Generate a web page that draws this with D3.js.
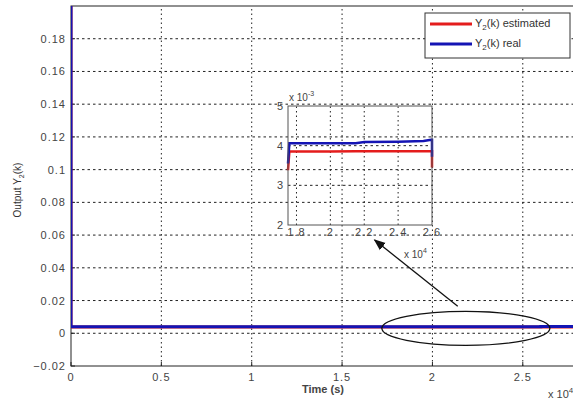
<!DOCTYPE html>
<html>
<head>
<meta charset="utf-8">
<script src="https://cdn.jsdelivr.net/npm/d3@7"></script>
<style>
  body { margin: 0; background: #fff; }
  svg { display: block; font-family: "Liberation Sans", Arial, sans-serif; }
  .tick-label { font-size: 11px; fill: #444; letter-spacing: 1px; }
</style>
</head>
<body>
<div id="chart"></div>
<script>
// chart size
const width = 573
const height = 403

// main plot data (time in 1e4 s, output)
const mainTicksX = [0, 0.5, 1, 1.5, 2, 2.5]
const mainTicksY = [-0.02, 0, 0.02, 0.04, 0.06, 0.08, 0.1, 0.12, 0.14, 0.16, 0.18]
const mainTime = [0, 0, 0.05, 0.5, 1.0, 1.5, 1.75, 2.2, 2.6, 2.8]
const mainReal = [0.25, 0.004, 0.004, 0.004, 0.004, 0.004, 0.00402, 0.00406, 0.0041, 0.0041]
const mainEst = [0.25, 0.0038, 0.0038, 0.0038, 0.0038, 0.0038, 0.0038, 0.00383, 0.00383, 0.00383]

// zoomed inset data (time in 1e4 s, output in 1e-3)
const insetTicksX = [1.8, 2, 2.2, 2.4, 2.6]
const insetTickLabelsX = ["1.8", "2", "2.2", "2.4", "2.6"]
const insetTicksY = [2, 3, 4, 5]
const insetTime = [1.75, 1.758, 1.8, 2.0, 2.15, 2.2, 2.4, 2.55, 2.595, 2.6, 2.6]
const insetReal = [3.55, 4.06, 4.06, 4.06, 4.06, 4.09, 4.10, 4.12, 4.15, 4.15, 3.72]
const insetEst = [3.38, 3.85, 3.85, 3.85, 3.86, 3.86, 3.86, 3.86, 3.86, 3.86, 3.45]

// annotation (main data coords)
const ellipseCenter = [2.185, 0.003]
const ellipseRadius = [0.465, 0.0104]
const arrowFrom = [2.14, 0.0165]
const arrowTo = [1.68, 0.057]

const blue = "#1414b4"
const red = "#e41c1c"

const svg = d3.select("#chart").append("svg")
  .attr("width", width)
  .attr("height", height)

const defs = svg.append("defs")

// main axes
const x = d3.scaleLinear().domain([0, 2.8]).range([71, 577])
const y = d3.scaleLinear().domain([-0.02, 0.2]).range([366, 6])

defs.append("clipPath").attr("id", "mainclip")
  .append("rect")
  .attr("x", x(0)).attr("y", y(0.2))
  .attr("width", x(2.8) - x(0)).attr("height", y(-0.02) - y(0.2))

// grid
const grid = svg.append("g")
grid.selectAll(".gy").data(mainTicksY.filter(d => d > -0.02))
  .enter().append("line")
  .attr("x1", x(0)).attr("x2", x(2.8))
  .attr("y1", d => y(d)).attr("y2", d => y(d))
  .attr("stroke", "#222").attr("stroke-width", 1)
  .attr("stroke-dasharray", "2.5,3")
grid.selectAll(".gx").data(mainTicksX.filter(d => d > 0))
  .enter().append("line")
  .attr("y1", y(-0.02)).attr("y2", y(0.2))
  .attr("x1", d => x(d)).attr("x2", d => x(d))
  .attr("stroke", "#222").attr("stroke-width", 1)
  .attr("stroke-dasharray", "1.5,3")

// frame
svg.append("rect")
  .attr("x", x(0)).attr("y", y(0.2))
  .attr("width", x(2.8) - x(0)).attr("height", y(-0.02) - y(0.2))
  .attr("fill", "none").attr("stroke", "#222").attr("stroke-width", 1)

// ticks (inside)
svg.append("g").selectAll("line").data(mainTicksY)
  .enter().append("line")
  .attr("x1", x(0)).attr("x2", x(0) + 4)
  .attr("y1", d => y(d)).attr("y2", d => y(d))
  .attr("stroke", "#222")
svg.append("g").selectAll("line").data(mainTicksX)
  .enter().append("line")
  .attr("x1", d => x(d)).attr("x2", d => x(d))
  .attr("y1", y(-0.02)).attr("y2", y(-0.02) - 4)
  .attr("stroke", "#222")

// tick labels
svg.append("g").selectAll("text").data(mainTicksY)
  .enter().append("text")
  .attr("class", "tick-label")
  .attr("x", 66).attr("y", d => y(d) + 4)
  .attr("text-anchor", "end")
  .text(d => d3.format("~g")(+d.toFixed(2)))
svg.append("g").selectAll("text").data(mainTicksX)
  .enter().append("text")
  .attr("class", "tick-label")
  .attr("x", d => x(d)).attr("y", 381)
  .attr("text-anchor", "middle")
  .text(d => d3.format("~g")(d))

// main lines
const mainLine = d3.line().curve(d3.curveStepAfter)
  .x(d => x(d[0])).y(d => y(d[1]))
const plot = svg.append("g").attr("clip-path", "url(#mainclip)")
plot.append("path")
  .attr("d", mainLine(mainTime.map((t, i) => [t, mainEst[i]])))
  .attr("fill", "none").attr("stroke", red).attr("stroke-width", 3)
plot.append("path")
  .attr("d", mainLine(mainTime.map((t, i) => [t, mainReal[i]])))
  .attr("fill", "none").attr("stroke", blue).attr("stroke-width", 3)

// axis labels
const ylab = svg.append("text")
  .attr("transform", "translate(21,190) rotate(-90)")
  .attr("text-anchor", "middle")
  .attr("font-size", 10).attr("fill", "#333")
ylab.append("tspan").text("Output Y")
ylab.append("tspan").attr("font-size", 7).attr("dy", 3).text("2")
ylab.append("tspan").attr("dy", -3).text("(k)")

svg.append("text")
  .attr("x", 323).attr("y", 393)
  .attr("text-anchor", "middle")
  .attr("font-size", 11).attr("font-weight", "bold").attr("fill", "#444")
  .text("Time (s)")

const xexp = svg.append("text")
  .attr("x", 548).attr("y", 398)
  .attr("font-size", 11).attr("fill", "#444")
xexp.append("tspan").text("x 10")
xexp.append("tspan").attr("font-size", 8).attr("dy", -5).text("4")

// ellipse and arrow
svg.append("ellipse")
  .attr("cx", x(ellipseCenter[0])).attr("cy", y(ellipseCenter[1]))
  .attr("rx", x(ellipseRadius[0]) - x(0)).attr("ry", y(0) - y(ellipseRadius[1]))
  .attr("fill", "none").attr("stroke", "#111").attr("stroke-width", 1.3)

defs.append("marker").attr("id", "arrowhead")
  .attr("viewBox", "0 0 10 10").attr("refX", 9).attr("refY", 5)
  .attr("markerWidth", 9).attr("markerHeight", 9).attr("orient", "auto")
  .append("path").attr("d", "M0,1 L10,5 L0,9 Z").attr("fill", "#111")

svg.append("line")
  .attr("x1", x(arrowFrom[0])).attr("y1", y(arrowFrom[1]))
  .attr("x2", x(arrowTo[0])).attr("y2", y(arrowTo[1]))
  .attr("stroke", "#111").attr("stroke-width", 1.3)
  .attr("marker-end", "url(#arrowhead)")

// inset axes
const ix = d3.scaleLinear().domain([1.75, 2.6]).range([288, 432])
const iy = d3.scaleLinear().domain([2, 5]).range([225, 106])

const inset = svg.append("g")
inset.selectAll(".igy").data(insetTicksY.slice(1, -1))
  .enter().append("line")
  .attr("x1", ix(1.75)).attr("x2", ix(2.6))
  .attr("y1", d => iy(d)).attr("y2", d => iy(d))
  .attr("stroke", "#222").attr("stroke-dasharray", "2.5,3")
inset.selectAll(".igx").data(insetTicksX.slice(0, -1))
  .enter().append("line")
  .attr("y1", iy(2)).attr("y2", iy(5))
  .attr("x1", d => ix(d)).attr("x2", d => ix(d))
  .attr("stroke", "#222").attr("stroke-dasharray", "1.5,3")

const insetLine = d3.line().x(d => ix(d[0])).y(d => iy(d[1]))
inset.append("path")
  .attr("d", insetLine(insetTime.map((t, i) => [t, insetEst[i]])))
  .attr("fill", "none").attr("stroke", red).attr("stroke-width", 2.5)
inset.append("path")
  .attr("d", insetLine(insetTime.map((t, i) => [t, insetReal[i]])))
  .attr("fill", "none").attr("stroke", blue).attr("stroke-width", 2.5)

inset.append("rect")
  .attr("x", ix(1.75)).attr("y", iy(5))
  .attr("width", ix(2.6) - ix(1.75)).attr("height", iy(2) - iy(5))
  .attr("fill", "none").attr("stroke", "#555").attr("stroke-width", 1)

inset.selectAll(".ity").data(insetTicksY)
  .enter().append("text")
  .attr("class", "tick-label")
  .attr("x", 284).attr("y", d => iy(d) + 4)
  .attr("text-anchor", "end")
  .text(d => d)
inset.selectAll(".itx").data(insetTicksX)
  .enter().append("text")
  .attr("class", "tick-label")
  .attr("x", d => ix(d)).attr("y", 236)
  .attr("text-anchor", "middle")
  .text((d, i) => insetTickLabelsX[i])

const iyexp = inset.append("text")
  .attr("x", 289).attr("y", 101)
  .attr("font-size", 10).attr("fill", "#444")
iyexp.append("tspan").text("x 10")
iyexp.append("tspan").attr("font-size", 7).attr("dy", -5).text("-3")

const ixexp = inset.append("text")
  .attr("x", 404).attr("y", 258)
  .attr("font-size", 10).attr("fill", "#444")
ixexp.append("tspan").text("x 10")
ixexp.append("tspan").attr("font-size", 7).attr("dy", -5).text("4")

// legend
const legend = svg.append("g")
legend.append("rect")
  .attr("x", 425).attr("y", 13).attr("width", 145).attr("height", 45)
  .attr("fill", "#fff").attr("stroke", "#333").attr("stroke-width", 1)
const legendItems = [
  { label: "estimated", color: red },
  { label: "real", color: blue }
]
legendItems.forEach((d, i) => {
  const ly = 24 + i * 20
  legend.append("line")
    .attr("x1", 430).attr("x2", 472).attr("y1", ly).attr("y2", ly)
    .attr("stroke", d.color).attr("stroke-width", 3)
  const t = legend.append("text")
    .attr("x", 475).attr("y", ly + 3)
    .attr("font-size", 11).attr("fill", "#333")
  t.append("tspan").text("Y")
  t.append("tspan").attr("font-size", 8).attr("dy", 3).text("2")
  t.append("tspan").attr("dy", -3).text("(k) " + d.label)
})
</script>
</body>
</html>
